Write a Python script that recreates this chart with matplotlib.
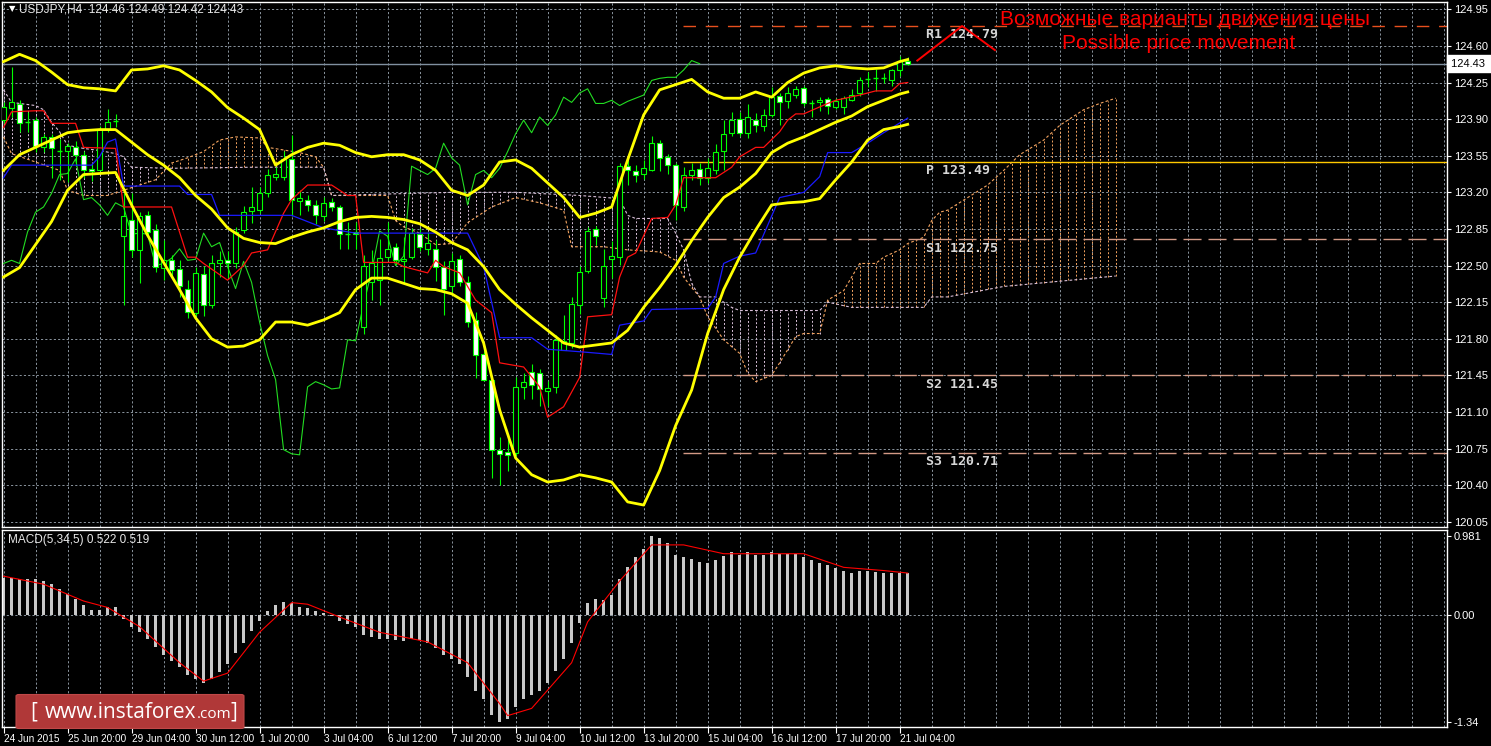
import numpy as np
import matplotlib.pyplot as plt
from matplotlib.patches import Rectangle, FancyBboxPatch
import matplotlib.transforms as mtransforms

# ---------------- data (USDJPY H4) ----------------
opens = [123.89, 124.01, 124.04, 123.87, 123.89, 123.63, 123.73, 123.60, 123.60, 123.63,
         123.56, 123.42, 123.41, 123.81, 123.88, 122.78, 122.94, 122.65, 122.98, 122.84,
         122.48, 122.55, 122.47, 122.28, 122.05, 122.42, 122.12, 122.52, 122.55, 122.52,
         122.84, 123.02, 123.03, 123.19, 123.35, 123.35, 123.52, 123.12, 123.13, 123.08,
         122.97, 123.11, 123.06, 122.80, 122.82, 121.91, 122.34, 122.36, 122.58, 122.68,
         122.54, 122.58, 122.80, 122.66, 122.66, 122.49, 122.30, 122.56, 122.34, 121.98,
         121.65, 121.41, 120.74, 120.72, 120.71, 121.34, 121.48, 121.47, 121.30, 121.34,
         121.69, 121.76, 122.12, 122.45, 122.85, 122.19, 122.56, 122.58, 123.45, 123.40,
         123.38, 123.41, 123.67, 123.54, 123.46, 123.06, 123.37, 123.42, 123.34, 123.41,
         123.60, 123.77, 123.90, 123.77, 123.89, 123.83, 123.94, 124.12, 124.07, 124.13,
         124.20, 124.05, 124.06, 124.09, 124.02, 124.02, 124.08, 124.15, 124.28, 124.29,
         124.29, 124.27, 124.37, 124.46]
highs = [124.06, 124.40, 124.08, 123.97, 123.92, 123.76, 123.76, 123.71, 123.67, 123.69,
         123.60, 123.48, 123.83, 124.00, 123.95, 123.19, 123.19, 123.01, 123.02, 122.90,
         122.74, 122.60, 122.55, 122.36, 122.49, 122.50, 122.60, 122.64, 122.64, 122.87,
         123.07, 123.25, 123.25, 123.42, 123.44, 123.60, 123.75, 123.22, 123.17, 123.13,
         123.16, 123.15, 123.08, 122.92, 122.92, 122.60, 122.65, 122.75, 122.92, 122.72,
         122.77, 122.86, 122.86, 122.82, 122.74, 122.54, 122.62, 122.60, 122.40, 122.06,
         121.70, 121.41, 120.86, 120.89, 121.43, 121.47, 121.56, 121.51, 121.40, 121.84,
         122.03, 122.20, 122.50, 122.87, 122.88, 122.66, 122.73, 123.48, 123.52, 123.46,
         123.51, 123.74, 123.70, 123.57, 123.48, 123.44, 123.48, 123.48, 123.53, 123.66,
         123.89, 123.97, 123.97, 124.04, 123.96, 124.00, 124.21, 124.15, 124.21, 124.22,
         124.22, 124.08, 124.11, 124.11, 124.10, 124.12, 124.19, 124.30, 124.35, 124.38,
         124.34, 124.38, 124.50, 124.49]
lows = [123.86, 123.92, 123.78, 123.78, 123.59, 123.59, 123.34, 123.32, 123.30, 123.45,
        123.34, 123.31, 123.40, 123.78, 123.82, 122.12, 122.58, 122.33, 122.78, 122.44,
        122.36, 122.40, 122.20, 122.00, 122.02, 122.02, 122.09, 122.39, 122.38, 122.48,
        122.81, 122.91, 123.00, 123.16, 123.32, 123.32, 122.97, 122.98, 123.02, 122.90,
        122.93, 123.02, 122.66, 122.66, 122.66, 121.85, 122.17, 122.12, 122.55, 122.51,
        122.33, 122.56, 122.64, 122.60, 122.35, 122.03, 122.22, 122.30, 121.91, 121.42,
        121.40, 120.47, 120.40, 120.54, 120.68, 121.22, 121.22, 121.16, 121.16, 121.28,
        121.69, 121.71, 122.04, 122.43, 122.70, 122.10, 122.38, 122.51, 123.27, 123.30,
        123.33, 123.40, 123.40, 123.38, 122.94, 123.02, 123.32, 123.27, 123.29, 123.38,
        123.41, 123.74, 123.74, 123.72, 123.78, 123.79, 123.92, 123.84, 124.01, 124.10,
        124.03, 123.92, 123.98, 123.95, 124.00, 123.95, 124.07, 124.12, 124.21, 124.17,
        124.25, 124.22, 124.31, 124.42]
closes = [124.02, 124.06, 123.86, 123.87, 123.64, 123.73, 123.62, 123.61, 123.64, 123.56,
          123.41, 123.40, 123.81, 123.87, 123.89, 122.97, 122.65, 122.97, 122.82, 122.49,
          122.55, 122.46, 122.30, 122.06, 122.43, 122.12, 122.52, 122.55, 122.52, 122.82,
          123.01, 123.06, 123.19, 123.37, 123.38, 123.52, 123.13, 123.15, 123.08, 122.98,
          123.10, 123.06, 122.80, 122.81, 122.80, 122.50, 122.52, 122.57, 122.66, 122.55,
          122.56, 122.81, 122.68, 122.72, 122.49, 122.28, 122.54, 122.34, 121.96, 121.64,
          121.41, 120.74, 120.70, 120.69, 121.34, 121.39, 121.36, 121.32, 121.33, 121.79,
          121.78, 122.13, 122.44, 122.83, 122.78, 122.50, 122.59, 123.45, 123.41, 123.37,
          123.43, 123.67, 123.53, 123.46, 123.08, 123.37, 123.41, 123.34, 123.43, 123.59,
          123.76, 123.89, 123.77, 123.92, 123.84, 123.94, 124.11, 124.06, 124.15, 124.19,
          124.05, 124.05, 124.08, 124.03, 124.07, 124.10, 124.13, 124.27, 124.29, 124.30,
          124.30, 124.37, 124.46, 124.43]

date_labels = ["24 Jun 2015", "25 Jun 20:00", "29 Jun 04:00", "30 Jun 12:00", "1 Jul 20:00",
               "3 Jul 04:00", "6 Jul 12:00", "7 Jul 20:00", "9 Jul 04:00", "10 Jul 12:00",
               "13 Jul 20:00", "15 Jul 04:00", "16 Jul 12:00", "17 Jul 20:00", "21 Jul 04:00"]

# Bollinger bands (bar, price)
bb_bars = [0, 2, 4, 6, 8, 10, 12, 14, 16, 18, 20, 22, 24, 26, 28, 30, 32, 34, 36, 38, 40,
           42, 44, 46, 48, 50, 52, 54, 56, 58, 60, 62, 64, 66, 68, 70, 72, 74, 76, 78, 80,
           82, 84, 86, 88, 90, 92, 94, 96, 98, 100, 102, 104, 106, 108, 110, 112, 113]
bb_upper = [124.45, 124.52, 124.46, 124.35, 124.23, 124.20, 124.19, 124.17, 124.37, 124.38,
            124.41, 124.37, 124.27, 124.16, 124.01, 123.91, 123.80, 123.46, 123.56, 123.63,
            123.67, 123.65, 123.58, 123.54, 123.56, 123.56, 123.51, 123.41, 123.22, 123.17,
            123.27, 123.49, 123.51, 123.43, 123.29, 123.15, 122.96, 123.00, 123.06, 123.51,
            123.94, 124.18, 124.23, 124.28, 124.16, 124.10, 124.10, 124.16, 124.11, 124.25,
            124.34, 124.39, 124.41, 124.39, 124.38, 124.39, 124.45, 124.47]
bb_middle = [123.41, 123.56, 123.63, 123.70, 123.77, 123.79, 123.80, 123.80, 123.68, 123.56,
             123.46, 123.34, 123.17, 123.04, 122.86, 122.76, 122.72, 122.71, 122.77, 122.82,
             122.86, 122.92, 122.96, 122.97, 122.96, 122.94, 122.90, 122.82, 122.72, 122.65,
             122.49, 122.27, 122.13, 122.00, 121.88, 121.76, 121.72, 121.74, 121.76, 121.88,
             122.10, 122.29, 122.50, 122.74, 122.96, 123.15, 123.25, 123.38, 123.58, 123.67,
             123.73, 123.80, 123.87, 123.93, 124.02, 124.08, 124.14, 124.16]
bb_lower = [122.39, 122.48, 122.70, 122.92, 123.22, 123.37, 123.38, 123.39, 123.08, 122.79,
            122.53, 122.27, 122.00, 121.80, 121.72, 121.73, 121.79, 121.96, 121.96, 121.93,
            121.98, 122.05, 122.27, 122.38, 122.38, 122.33, 122.28, 122.27, 122.23, 122.14,
            121.76, 121.12, 120.66, 120.50, 120.43, 120.45, 120.50, 120.47, 120.43, 120.24,
            120.21, 120.54, 120.97, 121.31, 121.85, 122.27, 122.58, 122.84, 123.08, 123.10,
            123.11, 123.14, 123.32, 123.49, 123.70, 123.80, 123.83, 123.85]

# Ichimoku lines as (bar, price) breakpoints
tenkan = [(0, 123.82), (1, 123.97), (4, 123.98), (5, 123.98), (6, 123.86), (9, 123.86),
          (10, 123.63), (14, 123.62), (15, 123.06), (21, 123.06), (23, 122.58), (24, 122.58),
          (25, 122.52), (28, 122.36), (30, 122.50), (31, 122.62), (33, 122.65), (35, 123.00),
          (36, 123.13), (38, 123.27), (41, 123.27), (43, 123.17), (44, 123.17), (45, 122.53),
          (49, 122.53), (50, 122.49), (53, 122.43), (54, 122.55), (55, 122.49), (57, 122.43),
          (59, 122.17), (61, 122.05), (62, 121.57), (65, 121.53), (67, 121.34), (68, 121.05),
          (70, 121.15), (72, 121.43), (73, 122.01), (76, 122.03), (77, 122.39), (78, 122.58),
          (79, 122.62), (81, 122.95), (83, 122.96), (84, 123.08), (85, 123.34), (89, 123.34),
          (91, 123.44), (92, 123.54), (94, 123.63), (95, 123.63), (97, 123.78), (98, 123.89),
          (99, 123.95), (100, 123.95), (103, 124.05), (104, 124.08), (107, 124.13),
          (109, 124.17), (111, 124.17), (112, 124.24), (113, 124.25)]
kijun = [(0, 123.34), (1, 123.46), (11, 123.46), (12, 123.54), (13, 123.68), (14, 123.71),
         (15, 123.26), (22, 123.26), (23, 123.18), (26, 123.18), (27, 122.98), (36, 122.98),
         (40, 122.86), (44, 122.81), (58, 122.81), (60, 122.49), (62, 121.81), (66, 121.81),
         (68, 121.70), (73, 121.67), (76, 121.65), (77, 121.93), (80, 121.97), (81, 122.08),
         (88, 122.09), (89, 122.20), (90, 122.52), (92, 122.59), (94, 122.62), (97, 123.15),
         (100, 123.20), (102, 123.35), (103, 123.58), (106, 123.58), (108, 123.67),
         (110, 123.77), (113, 123.91)]
senkou_a = [(0, 123.73), (1, 123.57), (7, 123.41), (8, 123.22), (10, 123.17), (13, 123.17),
            (19, 123.32), (21, 123.48), (23, 123.53), (25, 123.59), (27, 123.70), (29, 123.73),
            (32, 123.72), (33, 123.63), (37, 123.58), (39, 123.54), (40, 123.44), (41, 123.17),
            (48, 123.17), (49, 122.93), (50, 122.87), (52, 122.81), (54, 122.70), (56, 122.71),
            (58, 122.91), (61, 123.06), (64, 123.15), (67, 123.10), (70, 123.03), (71, 122.68),
            (75, 122.68), (78, 122.65), (82, 122.63), (84, 122.55), (85, 122.39), (86, 122.29),
            (87, 122.20), (88, 122.01), (90, 121.79), (92, 121.66), (93, 121.47), (94, 121.39),
            (96, 121.45), (97, 121.57), (99, 121.82), (100, 121.85), (102, 121.85), (103, 122.17),
            (105, 122.26), (106, 122.39), (107, 122.52), (109, 122.52), (110, 122.58),
            (112, 122.65), (113, 122.71), (115, 122.77), (116, 122.93), (117, 123.01),
            (118, 123.03), (123, 123.27), (125, 123.41), (127, 123.56), (130, 123.70),
            (132, 123.84), (135, 123.99), (137, 124.05), (139, 124.10)]
senkou_b = [(0, 124.18), (1, 124.06), (4, 124.03), (5, 123.99), (6, 123.87), (7, 123.78),
            (8, 123.65), (10, 123.62), (12, 123.60), (14, 123.57), (15, 123.54), (16, 123.44),
            (21, 123.43), (31, 123.44), (40, 123.44), (41, 123.17), (56, 123.20), (64, 123.20),
            (72, 123.17), (77, 123.14), (78, 122.98), (79, 122.95), (83, 122.95), (84, 122.81),
            (85, 122.65), (86, 122.33), (87, 122.20), (89, 122.20), (91, 122.10), (92, 122.07),
            (102, 122.07), (103, 122.15), (106, 122.10), (115, 122.10), (116, 122.20),
            (118, 122.20), (125, 122.30), (139, 122.40)]

# MACD(5,34,5): histogram per bar, signal breakpoints
macd_hist = [0.46, 0.46, 0.45, 0.45, 0.44, 0.42, 0.38, 0.32, 0.26, 0.20,
             0.12, 0.06, 0.06, 0.10, 0.10, -0.05, -0.15, -0.22, -0.30, -0.40,
             -0.50, -0.58, -0.65, -0.75, -0.80, -0.85, -0.80, -0.72, -0.62, -0.48,
             -0.35, -0.20, -0.08, 0.05, 0.12, 0.16, 0.14, 0.10, 0.08, 0.04,
             0.02, -0.02, -0.08, -0.12, -0.15, -0.25, -0.28, -0.30, -0.30, -0.32,
             -0.33, -0.30, -0.32, -0.36, -0.42, -0.50, -0.55, -0.62, -0.78, -0.95,
             -1.05, -1.25, -1.34, -1.30, -1.15, -1.05, -1.00, -0.95, -0.85, -0.70,
             -0.55, -0.35, -0.10, 0.15, 0.20, 0.18, 0.25, 0.45, 0.60, 0.72,
             0.82, 0.981, 0.95, 0.90, 0.75, 0.72, 0.70, 0.66, 0.65, 0.68,
             0.73, 0.78, 0.75, 0.78, 0.74, 0.74, 0.78, 0.76, 0.76, 0.76,
             0.72, 0.68, 0.65, 0.62, 0.58, 0.55, 0.52, 0.54, 0.54, 0.53,
             0.52, 0.52, 0.52, 0.522]
macd_signal = [(0, 0.48), (5, 0.38), (10, 0.17), (13, 0.09), (17, -0.15), (22, -0.60),
               (25, -0.83), (28, -0.73), (32, -0.22), (36, 0.15), (38, 0.13), (42, -0.03),
               (47, -0.22), (53, -0.34), (58, -0.60), (62, -1.11), (63, -1.26), (66, -1.17),
               (71, -0.60), (73, -0.09), (77, 0.42), (81, 0.87), (85, 0.87), (90, 0.76),
               (95, 0.76), (100, 0.76), (105, 0.59), (110, 0.55), (113, 0.519)]

pivots = [("R1", 124.79), ("P", 123.49), ("S1", 122.75), ("S2", 121.45), ("S3", 120.71)]
forecast_bars = [114.2, 119.8, 123.9]
forecast_prices = [124.46, 124.79, 124.56]

# ---------------- figure ----------------
W, H = 1491, 746
fig = plt.figure(figsize=(W / 100, H / 100), dpi=100, facecolor="black")
ax = fig.add_axes([2 / W, 1 - 527 / H, 1445 / W, 525 / H], facecolor="black")
axm = fig.add_axes([2 / W, 1 - 727 / H, 1445 / W, 197 / H], facecolor="black", sharex=ax)

ui_font = ["Liberation Sans", "DejaVu Sans"]
grid_c = "#8a949e"
grid_ls = (0, (2.2, 2.2))
n = len(closes)
x = np.arange(n)
price_ticks = [120.05, 120.40, 120.75, 121.10, 121.45, 121.80, 122.15, 122.50, 122.85,
               123.20, 123.55, 123.90, 124.25, 124.60, 124.95]

for a in (ax, axm):
    for k in range(0, 181, 4):
        a.axvline(k, color=grid_c, ls=grid_ls, lw=0.7, zorder=0)
    for s in a.spines.values():
        s.set_color("white")
        s.set_linewidth(1)
for p in price_ticks:
    ax.axhline(p, color=grid_c, ls=grid_ls, lw=0.7, zorder=0)
axm.axhline(0, color=grid_c, ls=grid_ls, lw=0.7, zorder=0)

# Ichimoku cloud
sa = np.array(senkou_a)
sb = np.array(senkou_b)
kc = np.arange(0, 140)
va = np.interp(kc, sa[:, 0], sa[:, 1])
vb = np.interp(kc, sb[:, 0], sb[:, 1])
for k, a_, b_ in zip(kc, va, vb):
    c = "#f4a460" if a_ >= b_ else "#d8bfd8"
    ax.vlines(k, min(a_, b_), max(a_, b_), colors=c, linestyles=(0, (2, 2)), lw=0.7, zorder=1)
ax.plot(sa[:, 0], sa[:, 1], color="#f4a460", ls=(0, (2.5, 2)), lw=0.8, zorder=1)
ax.plot(sb[:, 0], sb[:, 1], color="#d8bfd8", ls=(0, (2.5, 2)), lw=0.8, zorder=1)

# pivot levels
piv_start = 84.9
piv_style = {"R1": ("#e8501e", (0, (9, 7))), "P": ("#ffc800", "-"),
             "S1": ("#d49a86", (0, (13, 5))), "S2": ("#d49a86", (0, (16, 3))),
             "S3": ("#d49a86", (0, (13, 5)))}
for name, lvl in pivots:
    col, ls = piv_style[name]
    ax.hlines(lvl, piv_start, 181, colors=col, linestyles=ls, lw=1.0, zorder=2)
    ax.text(115.3, lvl - 0.085, f"{name} {lvl:.2f}", color="#d8d8d8", fontsize=9.5,
            family="DejaVu Sans Mono", fontweight="bold", va="center", ha="left", zorder=6)

# current price line
ax.axhline(closes[-1], color="#8090a0", lw=1.0, zorder=2)

# chikou span: closes shifted back 26 bars
ax.plot(x[:n - 26], closes[26:], color="#22dd22", lw=0.8, zorder=3)

# candles
for k in range(n):
    o, h, l, c = opens[k], highs[k], lows[k], closes[k]
    ax.vlines(k, l, h, colors="#00ff00", lw=0.8, zorder=4)
    lo, hi = min(o, c), max(o, c)
    face = "white" if c < o else "black"
    if hi - lo < 0.012:
        ax.hlines(o, k - 0.32, k + 0.32, colors="#00ff00", lw=1.0, zorder=5)
    else:
        ax.add_patch(Rectangle((k - 0.3, lo), 0.6, hi - lo, facecolor=face,
                               edgecolor="#00ff00", lw=0.8, zorder=5))

# tenkan / kijun
tk = np.array(tenkan)
kj = np.array(kijun)
ax.plot(tk[:, 0], tk[:, 1], color="#ff1010", lw=0.9, zorder=6)
ax.plot(kj[:, 0], kj[:, 1], color="#1a1aff", lw=0.9, zorder=6)

# Bollinger bands
for band in (bb_upper, bb_middle, bb_lower):
    ax.plot(bb_bars, band, color="#ffff00", lw=2.0, zorder=7, solid_joinstyle="round")

# forecast sketch
ax.plot(forecast_bars, forecast_prices, color="#ff0000", lw=1.4, zorder=8)
ax.text(147.6, 124.85, "Возможные варианты движения цены", color="#ff0000",
        fontsize=15, family="Liberation Sans", ha="center", va="center", zorder=8)
ax.text(146.8, 124.62, "Possible price movement", color="#ff0000",
        fontsize=15, family="Liberation Sans", ha="center", va="center", zorder=8)

ax.set_xlim(-0.19, 180.4)
ax.set_ylim(120.00, 125.02)
ax.yaxis.tick_right()
ax.set_yticks(price_ticks)
ax.set_yticklabels([f"{p:.2f}" for p in price_ticks], family=ui_font)
ax.tick_params(axis="y", colors="white", labelsize=8, length=3, pad=2)
ax.tick_params(axis="x", bottom=False, labelbottom=False)

# last price tag
tr = mtransforms.blended_transform_factory(ax.transAxes, ax.transData)
ax.text(1.0025, closes[-1], f"{closes[-1]:.2f} ", transform=tr, color="black", fontsize=8,
        family=ui_font, va="center", ha="left", zorder=9,
        bbox=dict(boxstyle="square,pad=0.3", facecolor="white", edgecolor="white"))

# MACD panel
axm.bar(x, macd_hist, width=0.42, color="#c8c8c8", zorder=2)
ms = np.array(macd_signal)
axm.plot(ms[:, 0], ms[:, 1], color="#ff0000", lw=0.8, zorder=3)
axm.set_ylim(-1.402, 1.056)
axm.yaxis.tick_right()
axm.set_yticks([0.981, 0.0, -1.34])
axm.set_yticklabels(["0.981", "0.00", "-1.34"], family=ui_font)
axm.tick_params(axis="y", colors="white", labelsize=8, length=3, pad=2)
axm.set_xticks(range(0, 8 * len(date_labels), 8))
axm.set_xticklabels(date_labels, ha="left", family=ui_font)
axm.tick_params(axis="x", colors="white", labelsize=7.2, length=4, pad=1)

# header texts
fig.text(9 / W, 1 - 9 / H, "▼", color="white", fontsize=6, va="center", ha="left")
fig.text(19 / W, 1 - 9 / H, "USDJPY,H4  124.46 124.49 124.42 124.43", color="#e8e8e8",
         fontsize=8.5, family=ui_font, va="center", ha="left")
fig.text(8 / W, 1 - 540 / H, "MACD(5,34,5) 0.522 0.519", color="#e8e8e8",
         fontsize=8.5, family=ui_font, va="center", ha="left")

# watermark
fig.patches.append(FancyBboxPatch((19 / W, 1 - 727 / H), 222 / W, 31 / H,
                                  boxstyle="round,pad=0.002", facecolor="#b03838",
                                  edgecolor="#c04848", lw=0.8, transform=fig.transFigure,
                                  figure=fig, zorder=5))
fig.text(30 / W, 1 - 712 / H, "[", color="white", fontsize=15, va="center", ha="left",
         family="Open Sans", zorder=6)
fig.text(45 / W, 1 - 712 / H, "www.instaforex", color="white", fontsize=15, va="center",
         ha="left", family="Open Sans", zorder=6)
fig.text(197 / W, 1 - 714 / H, ".com", color="white", fontsize=11, va="center",
         ha="left", family="Open Sans", zorder=6)
fig.text(230 / W, 1 - 712 / H, "]", color="white", fontsize=15, va="center", ha="left",
         family="Open Sans", zorder=6)

fig.savefig("out.png", dpi=100, facecolor="black")
